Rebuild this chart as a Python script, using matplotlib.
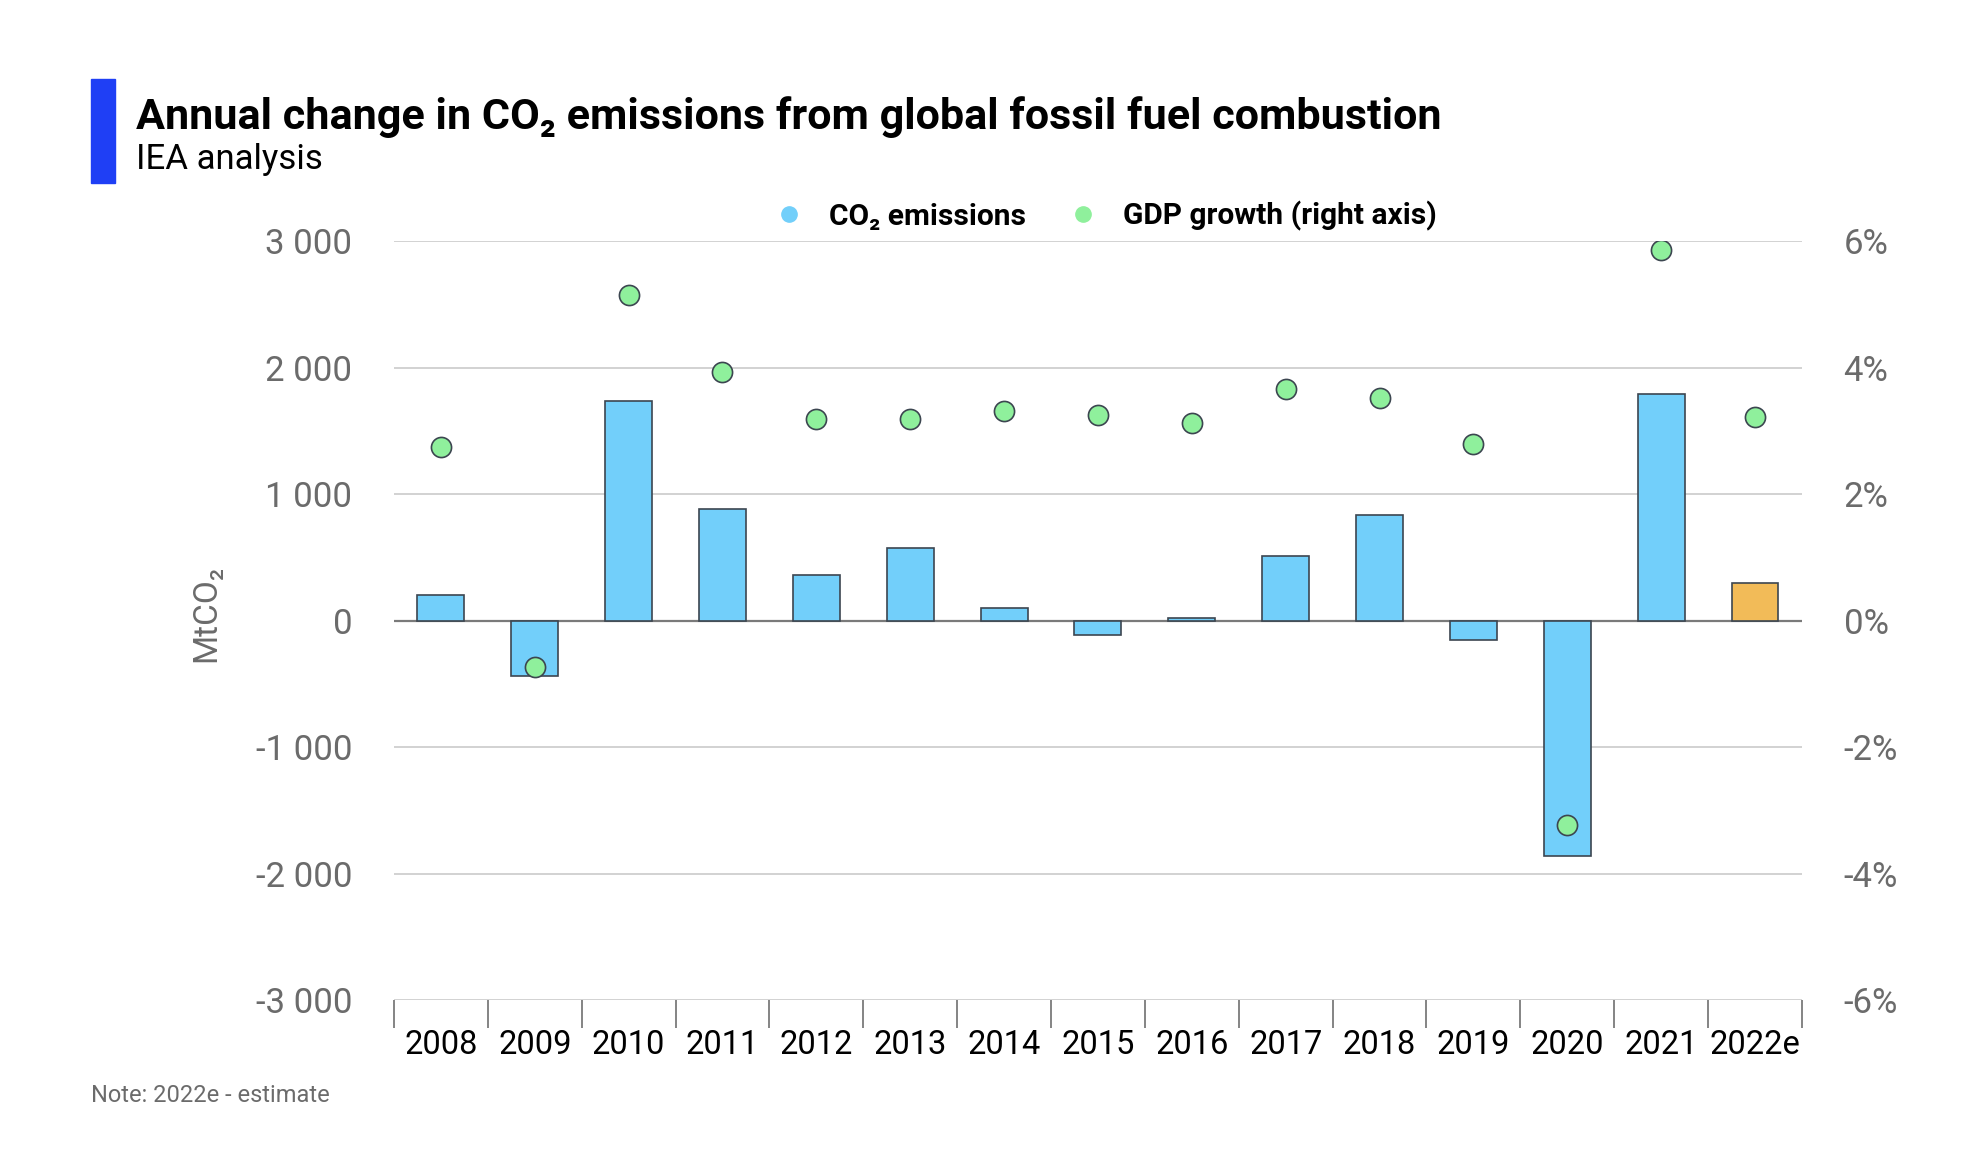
import numpy as np
import matplotlib
matplotlib.use('Agg')
import matplotlib.pyplot as plt
from matplotlib.lines import Line2D
from matplotlib.patches import Rectangle
from matplotlib.ticker import FuncFormatter, FixedLocator

plt.rcParams['font.family'] = ['Roboto', 'DejaVu Sans']

# data
years = ['2008', '2009', '2010', '2011', '2012', '2013', '2014', '2015',
         '2016', '2017', '2018', '2019', '2020', '2021', '2022e']
co2_change = [205, -440, 1735, 880, 365, 575, 100, -115,
              20, 510, 840, -150, -1860, 1790, 300]
gdp_growth = [2.75, -0.73, 5.15, 3.94, 3.19, 3.19, 3.32, 3.25,
              3.12, 3.67, 3.52, 2.80, -3.23, 5.86, 3.23]

blue = '#72cffa'
orange = '#f2bb58'
green = '#8ff09c'
edge = '#3c4650'
grey_txt = '#6b6b6b'

fig = plt.figure(figsize=(19.62, 11.76), dpi=100)
ax = fig.add_axes([0.2008, 0.1497, 0.7176, 0.645])

x = np.arange(len(years))
colors = [blue] * (len(years) - 1) + [orange]
ax.bar(x, co2_change, width=0.5, color=colors, edgecolor=edge, linewidth=1.2, zorder=3)

ax.set_xlim(-0.5, len(years) - 0.5)
ax.set_ylim(-3000, 3000)
ax.set_yticks(np.arange(-3000, 3001, 1000))
ax.yaxis.set_major_formatter(FuncFormatter(lambda v, p: '{:,.0f}'.format(v).replace(',', ' ')))
ax.yaxis.grid(True, color='#cfcfcf', linewidth=1.3, zorder=0)
ax.axhline(0, color='#7a7a7a', linewidth=1.6, zorder=2)
ax.tick_params(axis='y', length=0, pad=30, labelsize=25, labelcolor=grey_txt)

ax.set_xticks(x)
ax.set_xticklabels(years)
ax.xaxis.set_minor_locator(FixedLocator(np.arange(-0.5, len(years), 1.0)))
ax.tick_params(axis='x', which='major', length=0, pad=21, labelsize=23.5, labelcolor='black')
ax.tick_params(axis='x', which='minor', length=20, width=1.2, color='#6f6f6f', direction='out')
for s in ax.spines.values():
    s.set_visible(False)

ax.set_ylabel('MtCO₂', fontsize=24, color=grey_txt)
ax.yaxis.set_label_coords(-0.122, 0.51)

ax2 = ax.twinx()
ax2.scatter(x, gdp_growth, s=210, color=green, edgecolor=edge, linewidth=1.2, zorder=5)
ax2.set_ylim(-6, 6)
ax2.set_yticks(np.arange(-6, 7, 2))
ax2.yaxis.set_major_formatter(FuncFormatter(lambda v, p: '{:.0f}%'.format(v)))
ax2.tick_params(axis='y', length=0, pad=30, labelsize=25, labelcolor=grey_txt)
for s in ax2.spines.values():
    s.set_visible(False)

handles = [Line2D([], [], marker='o', linestyle='none', markersize=11, color=blue),
           Line2D([], [], marker='o', linestyle='none', markersize=11, color=green)]
ax.legend(handles, ['CO₂ emissions', 'GDP growth (right axis)'], loc='lower center',
          bbox_to_anchor=(0.5, 0.978), ncol=2, frameon=False, columnspacing=0.9,
          handletextpad=0.35, prop={'weight': 'bold', 'size': 21.5})

# header
fig.add_artist(Rectangle((91 / 1962, 1 - 183 / 1176), 24 / 1962, 104 / 1176,
                         transform=fig.transFigure, color='#1f3ff5'))
fig.text(136 / 1962, 1 - 117 / 1176, 'Annual change in CO₂ emissions from global fossil fuel combustion',
         fontsize=31.1, fontweight='bold', va='center', ha='left')
fig.text(136 / 1962, 1 - 159 / 1176, 'IEA analysis', fontsize=25, va='center', ha='left')
fig.text(91 / 1962, 1 - 1096 / 1176, 'Note: 2022e - estimate', fontsize=17, color=grey_txt,
         va='center', ha='left')

fig.savefig('out.png', dpi=100)
